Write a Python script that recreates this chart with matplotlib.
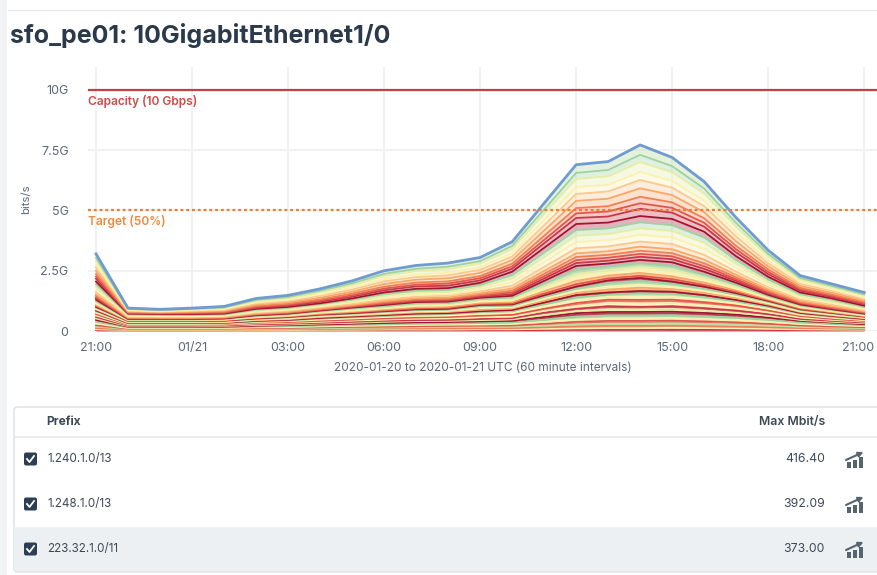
import matplotlib
matplotlib.use("Agg")
import matplotlib.pyplot as plt
from matplotlib.patches import FancyBboxPatch, Rectangle
from matplotlib.transforms import ScaledTranslation

plt.rcParams["font.family"] = ["Inter", "DejaVu Sans"]

hours = list(range(25))
tick_hours = [0, 3, 6, 9, 12, 15, 18, 21, 24]
tick_labels = ["21:00", "01/21", "03:00", "06:00", "09:00", "12:00", "15:00", "18:00", "21:00"]
y_ticks = [0, 2.5, 5, 7.5, 10]
y_labels = ["0", "2.5G", "5G", "7.5G", "10G"]
capacity = 10
target = 5

# top edge of every stacked layer, hundredths of Gbit/s, bottom layer first
bottom_tops = [
    [3,2,2,2,2,2,2,2,2,3,3,3,3,3,4,5,5,5,6,5,5,4,3,3,2],
    [7,4,4,4,4,4,4,5,5,6,6,6,7,7,9,11,12,12,13,12,11,9,7,6,5],
    [12,6,6,6,6,6,7,8,9,10,10,11,11,12,15,19,21,21,22,20,18,15,12,10,8],
    [18,8,8,8,8,9,10,11,13,14,15,16,17,18,22,28,31,31,32,30,27,23,17,14,12],
    [24,10,10,10,10,12,13,15,17,18,20,21,22,23,30,38,42,42,43,40,36,30,23,19,16],
    [31,12,12,12,12,15,16,19,21,23,25,26,27,29,38,48,53,53,54,50,46,38,29,24,20],
    [38,15,15,15,15,18,20,23,25,28,30,31,33,35,47,60,65,65,66,62,56,47,35,29,24],
]
low_tops = [
    [46,18,18,18,18,22,24,27,30,33,36,37,40,42,58,74,79,79,80,75,68,56,42,35,28],
    [52,20,20,20,21,25,27,31,34,38,41,42,45,48,67,83,91,90,92,85,76,63,46,38,32],
    [58,22,22,22,23,28,30,34,38,42,45,46,50,53,76,92,103,100,103,95,85,70,50,42,35],
    [64,25,25,25,26,31,34,38,43,47,51,52,57,60,84,104,117,115,117,108,96,78,56,46,39],
    [70,27,27,27,28,34,37,42,47,52,56,58,64,67,92,116,130,129,130,120,106,85,62,50,42],
    [76,29,29,29,30,37,41,47,52,58,62,64,71,75,102,129,142,144,143,131,115,93,67,55,45],
    [81,31,31,31,32,40,44,51,57,62,68,70,78,82,111,140,152,157,155,142,123,100,72,59,48],
    [85,33,33,33,34,42,46,54,60,66,72,74,82,87,118,149,160,166,163,149,129,105,75,62,50],
    [89,35,35,35,36,45,49,58,64,70,77,79,88,93,126,158,172,180,174,158,136,110,79,65,53],
    [92,37,37,37,38,47,52,61,67,74,81,83,95,98,133,166,185,193,184,166,143,115,82,68,55],
    [97,40,40,40,41,50,56,65,71,79,86,88,103,105,142,177,200,209,197,177,151,121,87,72,58],
]
mid_tops = [
    [100,42,42,42,43,52,58,68,74,82,90,92,108,110,148,184,210,220,205,184,157,125,90,75,60],
    [104,43,43,43,44,54,60,70,77,85,94,96,112,114,155,194,218,229,215,191,162,128,92,77,61],
    [108,44,44,44,46,56,62,73,80,89,98,100,116,120,165,208,230,241,227,201,169,132,96,79,63],
    [114,46,46,46,47,58,64,76,84,94,104,106,122,126,175,223,241,254,241,212,176,136,99,82,65],
    [119,47,47,47,49,60,67,79,88,98,109,111,127,132,185,237,253,266,255,222,184,141,102,84,67],
    [124,48,48,48,50,63,69,82,93,103,114,116,132,139,197,254,267,281,270,234,192,145,106,87,70],
]
second_tops = [
    [130,50,50,50,52,65,72,85,97,108,120,122,138,146,208,270,280,295,285,246,200,150,110,90,72],
    [135,52,51,51,53,67,74,87,100,112,124,126,142,153,218,282,292,308,298,258,208,155,114,93,74],
    [140,53,53,53,55,69,76,89,102,115,128,130,147,160,227,294,304,320,310,269,215,160,117,96,77],
    [146,55,54,54,56,71,78,91,105,119,132,134,151,167,237,307,316,333,323,281,223,166,120,99,79],
    [152,57,56,56,58,73,80,94,108,124,136,139,157,176,249,322,331,350,339,296,233,172,125,103,82],
    [161,59,58,58,60,76,84,98,113,130,143,146,164,188,266,343,351,371,361,316,246,181,131,109,86],
    [173,63,61,61,63,80,88,102,119,138,151,154,173,203,286,369,377,399,388,341,263,193,138,116,91],
    [184,66,64,64,66,84,92,107,124,145,160,162,183,218,307,395,402,426,415,366,279,204,146,122,96],
    [194,69,67,67,69,88,96,111,130,153,167,170,191,232,325,419,426,451,439,388,294,214,153,129,100],
]
top_tops = [
    [205,72,70,70,72,92,100,115,135,160,175,178,200,246,345,444,450,477,465,412,310,225,160,135,105],
    [217,74,72,73,75,96,105,121,142,169,185,188,210,258,364,469,475,507,491,433,326,236,167,141,111],
    [226,76,74,75,77,100,109,126,148,176,192,197,219,268,378,488,496,530,511,449,339,245,173,146,115],
    [236,78,75,77,80,104,113,131,155,184,201,206,228,279,395,510,518,557,534,468,353,255,179,151,120],
    [250,81,78,80,84,109,119,138,163,195,213,219,241,294,417,540,549,592,564,493,372,268,187,158,126],
    [264,84,80,83,87,114,124,146,172,206,224,231,254,309,439,569,579,627,595,518,392,281,196,166,133],
    [276,86,82,86,91,119,130,152,180,216,235,242,265,323,460,597,607,660,623,541,409,293,203,172,139],
    [292,89,85,89,95,125,136,161,190,228,249,257,280,340,486,631,642,701,659,570,432,309,213,181,147],
    [304,92,87,92,98,129,141,167,198,237,258,267,290,353,504,656,668,731,684,591,448,320,220,187,152],
]
total = [320,95,90,95,102,135,148,175,208,250,272,282,305,370,530,690,703,772,720,620,470,335,230,195,160]

prefixes = ["1.240.1.0/13", "1.248.1.0/13", "223.32.1.0/11"]
max_mbits = ["416.40", "392.09", "373.00"]

DR, CR, RD, OR = "#a3142f", "#c8374a", "#e2574a", "#ef7f55"
LO, PO, PY, YG, LG, GN = "#f9a868", "#fbc98e", "#fdf0b0", "#e6eda5", "#bcdfa8", "#9fd2a0"
BLUE = "#6f9bd0"
TEXT = "#5c6878"
DARK = "#3d4957"

bottom_colors = [CR, PY, OR, LG, RD, PY, GN]
low_colors = [DR, YG, CR, PY, RD, PY, GN, DR, LO, PY, GN]
mid_colors = [DR, RD, LO, PY, YG, GN]
cycle_colors = [DR, CR, RD, OR, LO, PO, PY, YG, GN]

fig = plt.figure(figsize=(8.77, 5.75), dpi=100)
W, H = 877, 575

# page furniture, in pixels
page = fig.add_axes([0, 0, 1, 1])
page.set_xlim(0, W)
page.set_ylim(H, 0)
page.axis("off")
page.add_patch(Rectangle((0, 0), 7, H, color="#f1f3f4", lw=0))
page.plot([8, W], [10, 10], color="#e6e8ea", lw=1)
page.text(10, 35, "sfo_pe01: 10GigabitEthernet1/0", fontsize=18, fontweight="bold",
          color="#2b3a4a", va="center")

# chart
ax = fig.add_axes([88 / W, 1 - 331 / H, 1 - 88 / W, (331 - 67) / H])
ax.set_xlim(-0.25, 24.4)
ax.set_ylim(0, 264 / 24.1)
ax.patch.set_alpha(0)
for side in ax.spines.values():
    side.set_visible(False)
ax.grid(True, color="#eeeff1", lw=1.2)
ax.set_axisbelow(True)
ax.set_xticks(tick_hours, tick_labels)
ax.set_yticks(y_ticks, y_labels)
ax.tick_params(length=0, labelsize=9, labelcolor=TEXT, pad=8)
ax.tick_params(axis="y", pad=14)
last_label = ax.get_xticklabels()[-1]
last_label.set_transform(last_label.get_transform() + ScaledTranslation(-0.06, 0, fig.dpi_scale_trans))
ax.set_xlabel("2020-01-20 to 2020-01-21 UTC (60 minute intervals)", fontsize=8.5, color=TEXT, labelpad=6)
ax.yaxis.set_label_coords(-57 / (W - 88), 140 / 264)
ax.set_ylabel("bits/s", fontsize=8.2, color=TEXT)

prev = [0] * len(hours)
groups = [
    (bottom_tops, bottom_colors, 0.85),
    (low_tops, low_colors, 0.8),
    (mid_tops, mid_colors, 0.7),
    (second_tops, cycle_colors, 0.35),
    (top_tops, cycle_colors, 0.32),
]
for tops, colors, alpha in groups:
    for top, color in zip(tops, colors):
        lo = [v / 100 for v in prev]
        hi = [v / 100 for v in top]
        ax.fill_between(hours, lo, hi, color=color, alpha=alpha, lw=0, zorder=2)
        ax.plot(hours, hi, color=color, lw=1.3, zorder=3)
        prev = top
ax.fill_between(hours, [v / 100 for v in prev], [v / 100 for v in total], color=LG, alpha=0.4, lw=0, zorder=2)
ax.plot(hours, [v / 100 for v in total], color=BLUE, lw=2, zorder=4)

ax.axhline(capacity, color="#c8403f", lw=1.6, zorder=5)
ax.axhline(target, color="#ee7d2e", lw=1.6, ls=(0, (1.3, 1.3)), zorder=5)
ax.text(-0.25, capacity - 0.46, "Capacity (10 Gbps)", color="#d04a4a", fontsize=8.6, fontweight="semibold", va="center")
ax.text(-0.25, target - 0.46, "Target (50%)", color="#ee8a3c", fontsize=8.6, fontweight="semibold", va="center")

# table below the chart
page.add_patch(FancyBboxPatch((14, 407), W, 165, boxstyle="round,pad=0,rounding_size=3",
                              fc="white", ec="#dcdfe2", lw=1))
page.plot([14, W], [437, 437], color="#e6e8ea", lw=1.2)
page.add_patch(Rectangle((14, 527), W - 14, 44, color="#edf0f2", lw=0))
page.text(46, 422, "Prefix", fontsize=8.6, fontweight="bold", color=DARK, va="center")
page.text(825, 422, "Max Mbit/s", fontsize=8.8, fontweight="semibold", color=DARK, va="center", ha="right")

for row_y, prefix, value in zip([459, 504, 549], prefixes, max_mbits):
    page.add_patch(FancyBboxPatch((24, row_y - 6.5), 13, 13, boxstyle="round,pad=0,rounding_size=2",
                                  fc="#2c3e55", ec="none"))
    page.plot([27, 29.5, 34], [row_y, row_y + 3, row_y - 3], color="white", lw=1.3)
    page.text(47, row_y, prefix, fontsize=8.4, color=DARK, va="center")
    page.text(825, row_y, value, fontsize=8.8, color=DARK, va="center", ha="right")
    for bx, bh in [(846.5, 6), (852.5, 8), (858.5, 11)]:
        page.add_patch(Rectangle((bx, row_y + 9 - bh), 4.5, bh, color="#55646f", lw=0))
    page.annotate("", xy=(863.5, row_y - 7), xytext=(846, row_y + 1),
                  arrowprops=dict(arrowstyle="-|>", color="#55646f", lw=1.5, mutation_scale=7,
                                  shrinkA=0, shrinkB=0))

fig.savefig("out.png", dpi=100)
